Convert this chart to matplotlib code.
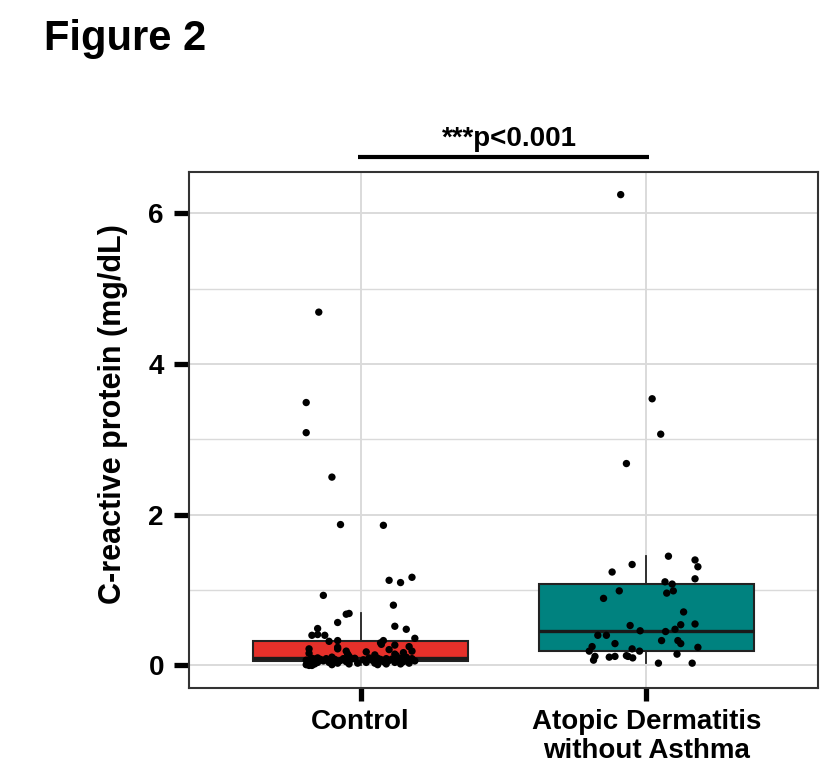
import matplotlib
matplotlib.use("Agg")
import matplotlib.pyplot as plt
import numpy as np

plt.rcParams['font.family'] = ['Liberation Sans', 'DejaVu Sans']
plt.rcParams['font.weight'] = 'bold'

categories = ["Control", "Atopic Dermatitis\nwithout Asthma"]
box_colors = ["#E5302A", "#00827F"]

# Control group: CRP values (mg/dL) and horizontal jitter offsets
control_values = [
    4.69, 3.49, 3.09, 2.50, 1.87, 1.86, 1.17, 1.13, 1.10, 0.93, 0.80, 0.69,
    0.68, 0.57, 0.52, 0.49, 0.48, 0.40, 0.41, 0.40, 0.36, 0.33, 0.33,
    0.32, 0.30, 0.28, 0.27, 0.25, 0.24, 0.22, 0.22, 0.21, 0.19, 0.19, 0.18,
    0.17, 0.16, 0.15, 0.15, 0.14, 0.13, 0.12, 0.11, 0.11, 0.10, 0.10,
    0.095, 0.095, 0.095, 0.095, 0.09, 0.09, 0.09, 0.09, 0.09, 0.085, 0.085,
    0.085, 0.08, 0.08, 0.08, 0.08, 0.075, 0.075, 0.07, 0.07, 0.07, 0.065, 0.065,
    0.06, 0.06, 0.05, 0.05, 0.05, 0.05, 0.04, 0.04, 0.04, 0.04, 0.03, 0.03,
    0.03, 0.03, 0.02, 0.02, 0.02, 0.02, 0.01, 0.01, 0.01, 0.00, 0.00,
]
control_jitter = [
    -0.146, -0.19, -0.19, -0.10, -0.07, 0.08, 0.18, 0.10, 0.14, -0.13, 0.115, -0.04,
    -0.05, -0.08, 0.12, -0.15, 0.16, -0.17, -0.15, -0.125, 0.19, -0.08, 0.08,
    -0.11, 0.07, 0.073, 0.12, 0.17, -0.08, -0.08, -0.18, 0.10, 0.18, -0.05, 0.02,
    0.15, -0.18, -0.045, 0.12, 0.05, 0.125, -0.04, 0.16, -0.10, 0.03, -0.15,
    -0.17, 0.06, 0.14, -0.02, -0.12, 0.09, 0.18, -0.06, 0.03, -0.16, 0.11,
    -0.03, 0.07, -0.14, 0.17, -0.09, 0.01, 0.13, -0.19, 0.04, 0.16, -0.07, 0.10,
    -0.13, 0.19, -0.18, -0.05, 0.08, 0.15, -0.11, 0.02, 0.12, -0.15, -0.08, 0.05,
    0.17, -0.01, -0.16, 0.09, 0.14, -0.04, -0.19, 0.06, -0.10, -0.18, -0.17,
]

# Atopic dermatitis without asthma: CRP values and jitter offsets
ad_values = [
    6.25, 3.54, 3.07, 2.68, 1.45, 1.40, 1.31, 1.34, 1.24, 1.15, 1.11, 1.08,
    0.99, 0.96, 0.99, 0.89, 0.71, 0.55, 0.54, 0.53, 0.48, 0.46, 0.45, 0.40,
    0.40, 0.33, 0.33, 0.29, 0.29, 0.24, 0.25, 0.19, 0.22, 0.19, 0.15, 0.12,
    0.07, 0.11, 0.12, 0.13, 0.12, 0.10, 0.03, 0.03,
]
ad_jitter = [
    -0.09, 0.02, 0.05, -0.07, 0.077, 0.17, 0.18, -0.05, -0.12, 0.17, 0.065, 0.09,
    0.094, 0.071, -0.095, -0.15, 0.13, 0.17, 0.12, -0.057, 0.10, -0.022, 0.067, -0.17,
    -0.14, 0.053, 0.11, 0.12, -0.11, 0.18, -0.19, -0.20, -0.05, -0.024, 0.107, -0.18,
    -0.185, -0.13, -0.11, -0.07, -0.064, -0.048, 0.042, 0.16,
]

y_ticks = [0, 2, 4, 6]
y_minor = [1, 3, 5]
y_label = "C-reactive protein (mg/dL)"
sig_text = "***p<0.001"
fig_title = "Figure 2"

fig = plt.figure(figsize=(8.22, 7.77), dpi=100)
ax = fig.add_axes([0.2299, 0.1145, 0.7652, 0.6641])

positions = [1, 2]
groups = [control_values, ad_values]
jitters = [control_jitter, ad_jitter]

grid_c = "#DADADA"
for yv in y_ticks:
    ax.axhline(yv, color=grid_c, lw=1.4, zorder=0)
for yv in y_minor:
    ax.axhline(yv, color=grid_c, lw=1.0, zorder=0)
for xv in positions:
    ax.axvline(xv, color=grid_c, lw=1.4, zorder=0)

bp = ax.boxplot(groups, positions=positions, widths=0.75, patch_artist=True,
                showfliers=False, showcaps=False, whis=1.5, zorder=2,
                boxprops=dict(edgecolor="#222222", linewidth=1.5),
                whiskerprops=dict(color="#222222", linewidth=1.3),
                medianprops=dict(color="#1a1a1a", linewidth=2.4))
for patch, c in zip(bp['boxes'], box_colors):
    patch.set_facecolor(c)

for pos, vals, jit in zip(positions, groups, jitters):
    xs = pos + np.array(jit)
    ax.scatter(xs, vals, s=28, color="black", edgecolors="none", zorder=3)

ax.set_xlim(0.4, 2.6)
ax.set_ylim(-0.30, 6.55)
ax.set_xticks(positions)
ax.set_xticklabels(categories, fontsize=20, fontweight='bold', linespacing=1.15)
ax.set_yticks(y_ticks)
ax.set_yticklabels([str(t) for t in y_ticks], fontsize=20, fontweight='bold')
ax.tick_params(axis='y', length=11, width=3.8, color='black', pad=7)
ax.tick_params(axis='x', length=9, width=3.8, color='black', pad=6)
for sp in ax.spines.values():
    sp.set_color("#333333")
    sp.set_linewidth(1.5)
ax.set_ylabel(y_label, fontsize=22, fontweight='bold')
ax.yaxis.set_label_coords(-0.0975, 0.53)

# significance bar
ax.plot([0.99, 2.01], [6.75, 6.75], color="black", lw=3, clip_on=False,
        solid_capstyle='butt')
ax.text(1.52, 6.81, sig_text, ha='center', va='bottom', fontsize=20,
        fontweight='bold', clip_on=False)

fig.text(0.053, 0.950, fig_title, fontsize=30, fontweight='bold',
         ha='left', va='center')

fig.savefig("out.png", dpi=100)
